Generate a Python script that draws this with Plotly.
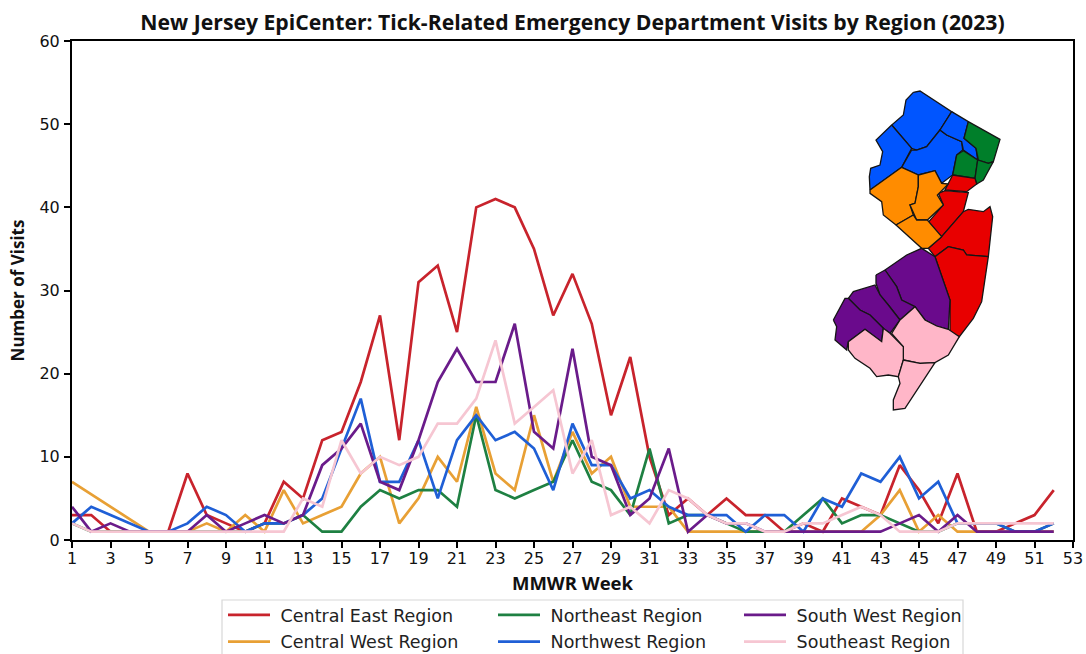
import plotly.graph_objects as go

weeks = list(range(1, 53))
central_east = [3,3,1,1,1,1,8,3,2,1,2,7,5,12,13,19,27,12,31,33,25,40,41,40,35,27,32,26,15,22,10,3,5,3,5,3,3,1,2,1,5,4,3,9,6,2,8,1,1,2,3,6]
central_west = [7,5.5,4,2.5,1,1,1,2,1,3,1,6,2,3,4,8,10,2,5,10,7,16,8,6,15,7,13,8,10,4,4,4,1,1,1,1,1,1,1,1,1,1,3,6,1,3,1,1,1,1,1,1]
northeast = [2,1,1,1,1,1,1,1,1,1,2,2,3,1,1,4,6,5,6,6,4,15,6,5,6,7,12,7,6,3,11,2,3,3,2,1,1,1,3,5,2,3,3,2,1,1,2,2,2,1,1,2]
northwest = [2,4,3,2,1,1,2,4,3,1,2,2,3,5,11,17,7,7,12,5,12,15,12,13,11,6,14,9,9,5,6,4,3,3,3,1,3,3,1,5,4,8,7,10,5,7,2,2,2,1,1,2]
south_west = [4,1,2,1,1,1,1,3,1,2,3,2,3,9,11,14,7,6,12,19,23,19,19,26,13,11,23,10,9,3,5,11,1,3,2,2,1,1,1,1,1,1,1,2,3,1,3,1,1,1,1,1]
southeast = [2,1,1,1,1,1,1,1,1,1,1,1,5,4,12,8,10,9,10,14,14,17,24,14,16,18,8,12,3,4,2,6,5,3,2,2,1,1,2,2,3,4,3,1,1,1,2,2,2,2,2,2]

x_ticks = list(range(1, 54, 2))
y_ticks = list(range(0, 61, 10))

TITLE = "New Jersey EpiCenter: Tick-Related Emergency Department Visits by Region (2023)"
X_LABEL = "MMWR Week"
Y_LABEL = "Number of Visits"

# county outlines of the inset map (inset units)
sussex = [(280,37),(300,33),(395,95),(360,150),(320,200),(290,210),(275,205),(215,135),(250,105),(258,60)]
warren = [(215,135),(275,205),(245,262),(150,330),(148,290),(152,265),(180,255),(188,215),(168,180)]
morris = [(245,262),(275,210),(290,210),(320,200),(360,150),(380,165),(425,185),(428,210),(410,225),(398,285),(365,310),(345,272),(295,285)]
passaic = [(395,95),(445,125),(432,175),(468,205),(473,240),(430,210),(425,185),(380,165),(360,150)]
bergen = [(445,125),(540,178),(520,245),(505,250),(475,240),(468,205),(432,175)]
essex = [(410,225),(430,212),(473,240),(465,295),(398,285)]
hudson = [(473,240),(505,250),(520,245),(490,300),(470,312),(465,295)]
union = [(398,285),(465,295),(470,312),(440,335),(375,330),(385,312)]
middlesex = [(355,340),(375,332),(445,338),(430,395),(365,470),(322,430),(370,375)]
monmouth = [(365,470),(430,395),(445,388),(490,395),(510,380),(518,410),(505,530),(440,525),(430,510),(385,500),(345,530),(325,505)]
ocean = [(345,530),(385,500),(430,510),(440,525),(505,530),(485,665),(460,715),(418,770),(390,760),(390,660)]
hunterdon = [(245,262),(295,285),(295,320),(285,370),(270,375),(280,405),(228,435),(190,405),(185,365),(150,340),(150,330)]
somerset = [(295,285),(345,272),(365,310),(385,312),(352,345),(370,375),(322,420),(290,420),(270,375),(285,370),(295,320)]
mercer = [(228,435),(280,405),(290,420),(322,420),(365,470),(325,505),(305,505),(255,460)]
burlington = [(195,570),(260,525),(305,505),(345,530),(390,660),(385,748),(350,738),(315,720),(285,680),(245,660),(230,620)]
camden = [(168,585),(195,570),(230,620),(245,660),(285,680),(240,720),(205,675),(180,645),(168,610)]
gloucester = [(85,655),(100,635),(165,615),(180,645),(205,675),(240,720),(210,760),(190,745),(150,705),(120,690)]
salem = [(40,720),(75,655),(85,655),(120,690),(150,705),(190,745),(185,785),(135,748),(85,785),(80,810),(45,780),(50,740)]
atlantic = [(285,680),(315,720),(350,738),(385,748),(418,770),(385,825),(345,848),(300,850),(250,840),(250,800),(215,760),(240,720)]
cumberland = [(85,785),(135,748),(185,785),(190,745),(210,760),(250,800),(250,840),(235,890),(205,885),(170,890),(150,865),(105,835),(85,810)]
cape_may = [(250,840),(300,850),(345,848),(295,925),(255,985),(220,990),(220,960),(240,910),(235,890)]

map_groups = [
    ("#0055ff", [sussex, warren, morris, passaic]),
    ("#007f2a", [bergen, essex, hudson]),
    ("#e80000", [union, middlesex, monmouth, ocean]),
    ("#ff8c00", [hunterdon, somerset, mercer]),
    ("#6a0a8c", [burlington, camden, gloucester, salem]),
    ("#ffb6c8", [atlantic, cumberland, cape_may]),
]

series = [
    ("Central East Region", central_east, "#c8232c", "legend", 1),
    ("Central West Region", central_west, "#e8a035", "legend", 2),
    ("Northeast Region", northeast, "#1e8042", "legend2", 1),
    ("Northwest Region", northwest, "#1f5fd6", "legend2", 2),
    ("South West Region", south_west, "#6a1b8a", "legend3", 1),
    ("Southeast Region", southeast, "#f6c6d2", "legend3", 2),
]

W, H = 1086, 690
L, R, T, B = 72, 1073, 41, 540
FONT = "DejaVu Sans"
BOLD = "Open Sans"

fig = go.Figure()
for name, vals, color, leg, rank in series:
    fig.add_trace(go.Scatter(x=weeks, y=vals, mode="lines", name="\u00a0" + name, legend=leg,
                             legendgroup=name, legendrank=rank,
                             line=dict(color=color, width=2.7), hoverinfo="skip"))

for color, counties in map_groups:
    for c in counties:
        xs = [p[0] for p in c] + [c[0][0]]
        ys = [p[1] for p in c] + [c[0][1]]
        fig.add_trace(go.Scatter(x=xs, y=ys, xaxis="x2", yaxis="y2", mode="lines", fill="toself",
                                 fillcolor=color, line=dict(color="#151515", width=1.3),
                                 showlegend=False, hoverinfo="skip"))

def px_x(v): return (v - L) / (R - L)
def px_y(v): return (B - v) / (B - T)

axis_common = dict(showgrid=False, zeroline=False, showline=True, linecolor="black", linewidth=2,
                   ticks="outside", ticklen=6, tickwidth=1.6, tickcolor="black", automargin=False,
                   tickfont=dict(family=FONT, size=16, color="#111"))

legend_common = dict(bgcolor="rgba(0,0,0,0)", borderwidth=0, orientation="v", xanchor="left", yanchor="top",
                     itemwidth=42, tracegroupgap=1, font=dict(family=FONT, size=17.5, color="#222"),
                     itemclick=False, itemdoubleclick=False)

fig.update_layout(
    width=W, height=H, autosize=False,
    margin=dict(l=L, r=W - R, t=T, b=H - B, pad=0),
    paper_bgcolor="white", plot_bgcolor="white",
    title=dict(text=f"<b>{TITLE}</b>", x=(141 + 1004) / 2 / W, xanchor="center", y=1 - 23 / H, yanchor="middle",
               font=dict(family=BOLD, size=21.2, color="#111")),
    xaxis=dict(range=[1, 53], tickvals=x_ticks, mirror=True, ticklabelstandoff=-3,
               title=dict(text=f"<b>{X_LABEL}</b>", standoff=10, font=dict(family=BOLD, size=18.5, color="#111")),
               **axis_common),
    yaxis=dict(range=[0, 60], tickvals=y_ticks, mirror=True, ticklabelstandoff=1,
               title=dict(text=f"<b>{Y_LABEL}</b>", standoff=10, font=dict(family=BOLD, size=17, color="#111")),
               **axis_common),
    xaxis2=dict(range=[(L - 820) * 3, (R - 820) * 3], overlaying="x", visible=False, anchor="y2", automargin=False),
    yaxis2=dict(range=[(B - 80) * 3, (T - 80) * 3], overlaying="y", visible=False, anchor="x2", automargin=False),
    legend=dict(x=px_x(223), y=px_y(597), **legend_common),
    legend2=dict(x=px_x(493), y=px_y(597), **legend_common),
    legend3=dict(x=px_x(739), y=px_y(597), **legend_common),
    shapes=[dict(type="rect", xref="paper", yref="paper", x0=px_x(222), x1=px_x(963), y0=px_y(670), y1=px_y(600),
                 line=dict(color="#d8d8d8", width=1.2), fillcolor="white", layer="below")],
    showlegend=True,
)

fig.write_html("out.html", config=dict(displayModeBar=False),
               post_script="document.body.style.margin='0';document.documentElement.style.overflow='hidden';")
